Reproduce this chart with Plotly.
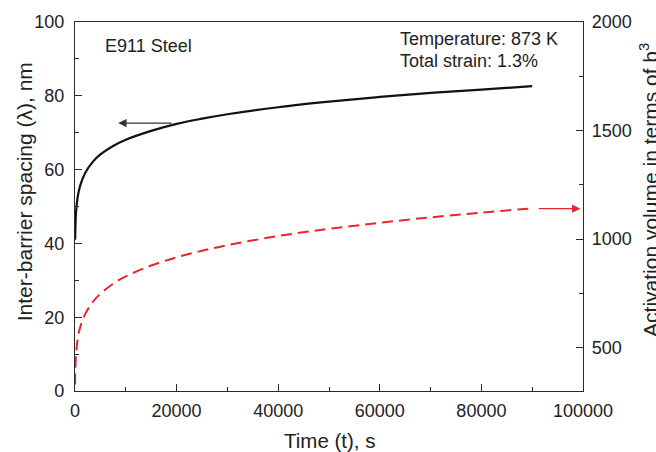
import plotly.graph_objects as go

# Data
time_s = [20, 50, 200, 500, 1000, 2000, 3500, 5000, 7500, 10000, 15000, 20000,
          25000, 30000, 40000, 50000, 60000, 70000, 80000, 90000]
spacing_nm = [41.0, 42.7, 48.3, 52.3, 55.6, 59.1, 62.1, 64.1, 66.4, 68.1, 70.5, 72.4,
              73.8, 75.0, 76.9, 78.4, 79.7, 80.8, 81.7, 82.6]
act_volume = [330, 382, 467, 535, 592, 654, 710, 748, 794, 828, 878, 916,
              946, 972, 1014, 1047, 1075, 1100, 1122, 1141]

x_ticks = [0, 20000, 40000, 60000, 80000, 100000]
y_ticks = [0, 20, 40, 60, 80, 100]
y2_ticks = [500, 1000, 1500, 2000]

FONT = "Arial, Liberation Sans, sans-serif"
AX = "#2a2a2a"
RED = "#e8262b"

fig = go.Figure()
fig.add_trace(go.Scatter(x=time_s, y=spacing_nm, mode="lines", line=dict(color="#111111", width=2.2, shape="spline"),
                         showlegend=False))
fig.add_trace(go.Scatter(x=time_s, y=act_volume, mode="lines", yaxis="y2",
                         line=dict(color=RED, width=2, dash="11px,6px", shape="spline"), showlegend=False))

axis_common = dict(showline=True, linecolor=AX, linewidth=1.4, ticks="inside", ticklen=7, tickwidth=1.4,
                   tickcolor=AX, showgrid=False, zeroline=False, tickformat="d",
                   tickfont=dict(family=FONT, size=18, color="#222"))

fig.update_layout(
    width=656, height=452,
    margin=dict(l=75, r=73, t=18, b=61),
    paper_bgcolor="white", plot_bgcolor="white",
    font=dict(family=FONT, color="#222"),
    xaxis=dict(range=[0, 100000], tickvals=x_ticks, mirror=True, ticklabelstandoff=3,
               minor=dict(dtick=10000, ticks="inside", ticklen=4, tickcolor=AX, tickwidth=1.2),
               **axis_common),
    yaxis=dict(range=[0, 100], tickvals=y_ticks, ticklabelstandoff=6,
               minor=dict(dtick=10, ticks="inside", ticklen=4, tickcolor=AX, tickwidth=1.2),
               **axis_common),
    yaxis2=dict(range=[300, 2000], tickvals=y2_ticks, overlaying="y", side="right", ticklabelstandoff=4,
                minor=dict(dtick=250, ticks="inside", ticklen=4, tickcolor=AX, tickwidth=1.2),
                **axis_common),
)

ann = []
# axis titles
ann.append(dict(text="Inter-barrier spacing (λ), nm", xref="paper", yref="paper", x=-0.0994, y=0.54,
                textangle=-90, showarrow=False, font=dict(family=FONT, size=21, color="#222"),
                xanchor="center", yanchor="middle"))
ann.append(dict(text="Activation volume in terms of b<sup>3</sup>", xref="paper", yref="paper", x=1.13, y=0.545,
                textangle=-90, showarrow=False, font=dict(family=FONT, size=21, color="#222"),
                xanchor="center", yanchor="middle"))
ann.append(dict(text="Time (t), s", xref="paper", yref="paper", x=0.5, y=-0.097,
                showarrow=False, font=dict(family=FONT, size=20.5, color="#222"),
                xanchor="center", yanchor="top"))
# in-plot labels
ann.append(dict(text="E911 Steel", xref="x", yref="y", x=5500, y=93.6, showarrow=False,
                xanchor="left", yanchor="middle", font=dict(family=FONT, size=18, color="#222")))
ann.append(dict(text="Temperature: 873 K", xref="x", yref="y", x=63600, y=95.4, showarrow=False,
                xanchor="left", yanchor="middle", font=dict(family=FONT, size=18, color="#222")))
ann.append(dict(text="Total strain: 1.3%", xref="x", yref="y", x=63600, y=89.3, showarrow=False,
                xanchor="left", yanchor="middle", font=dict(family=FONT, size=18, color="#222")))
# arrows
ann.append(dict(text="", x=8500, y=72.6, ax=19300, ay=72.6, xref="x", yref="y", axref="x", ayref="y",
                showarrow=True, arrowhead=2, arrowsize=1.2, arrowwidth=1.4, arrowcolor="#333", standoff=0))
ann.append(dict(text="", x=99500, y=1140, ax=91000, ay=1140, xref="x", yref="y2", axref="x", ayref="y2",
                showarrow=True, arrowhead=2, arrowsize=1.2, arrowwidth=1.4, arrowcolor=RED, standoff=0))
fig.update_layout(annotations=ann)

fig.write_html("out.html")
